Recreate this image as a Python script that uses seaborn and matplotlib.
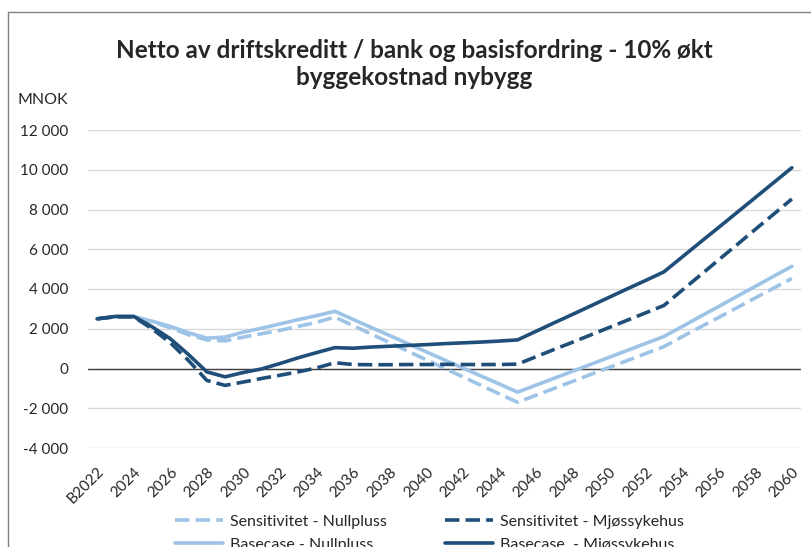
import seaborn as sns
import matplotlib.pyplot as plt
from matplotlib.lines import Line2D
from matplotlib.ticker import FuncFormatter
import numpy as np
import pandas as pd

aar = ["B2022"] + [str(a) for a in range(2023, 2061)]

# verdier lest av figuren (MNOK)
sens_null = [2500, 2600, 2600, 2350, 2050, 1700, 1440, 1390, 1580, 1750,
             1920, 2120, 2320, 2590, 2160, 1730, 1300, 870, 440, 10,
             -420, -850, -1280, -1700, -1350, -1000, -650, -300, 50, 400,
             750, 1100, 1600, 2090, 2570, 3060, 3550, 4040, 4530]
sens_mjos = [2500, 2600, 2600, 2000, 1300, 400, -600, -850, -680, -500,
             -340, -170, 30, 290, 200, 190, 190, 200, 200, 210,
             200, 200, 200, 220, 590, 960, 1320, 1690, 2060, 2430,
             2800, 3170, 3940, 4700, 5470, 6230, 7000, 7760, 8530]
base_null = [2500, 2620, 2620, 2380, 2120, 1800, 1530, 1580, 1830, 2030,
             2240, 2460, 2660, 2880, 2470, 2060, 1660, 1250, 840, 430,
             30, -380, -780, -1190, -840, -490, -140, 210, 560, 910,
             1260, 1610, 2110, 2620, 3120, 3630, 4130, 4640, 5140]
base_mjos = [2500, 2620, 2620, 2100, 1500, 700, -170, -420, -200, -20,
             250, 540, 800, 1050, 1020, 1080, 1120, 1160, 1200, 1250,
             1290, 1330, 1380, 1440, 1870, 2300, 2720, 3150, 3580, 4010,
             4430, 4860, 5610, 6360, 7100, 7850, 8600, 9350, 10100]

serier = [("Sensitivitet - Nullpluss", sens_null, '#9DC3E6', True),
          ("Basecase - Nullpluss", base_null, '#9DC3E6', False),
          ("Sensitivitet - Mjøssykehus", sens_mjos, '#1F4E79', True),
          ("Basecase  - Mjøssykehus", base_mjos, '#1F4E79', False)]

sns.set_theme(style='white')
plt.rcParams['font.family'] = ['Lato', 'DejaVu Sans']

f = plt.figure(figsize=(8.12, 5.47), dpi=100)
ax = f.add_axes([88 / 812, 1 - 448 / 547, 713 / 812, 318 / 547])

x = np.arange(len(aar))
for navn, verdier, farge, stiplet in serier:
    df = pd.DataFrame({'x': x, 'y': verdier})
    if stiplet:
        sns.lineplot(data=df, x='x', y='y', ax=ax, color=farge, lw=2.6,
                     linestyle=(0, (4, 1.7)), label=navn, legend=False)
    else:
        sns.lineplot(data=df, x='x', y='y', ax=ax, color=farge, lw=2.6,
                     label=navn, legend=False)

ax.set_xlim(-0.5, len(aar) - 0.5)
ax.set_ylim(-4000, 12000)
ax.set_yticks(np.arange(-4000, 12001, 2000))
ax.yaxis.set_major_formatter(FuncFormatter(lambda v, p: f"{int(v):,}".replace(",", " ")))
ax.grid(axis='y', color='#D9D9D9', lw=1)
ax.axhline(0, color='#404040', lw=1, zorder=1)
for s in ax.spines.values():
    s.set_visible(False)
ax.set_xticks(x[::2])
ax.set_xticklabels(aar[::2], rotation=45, ha='right', rotation_mode='anchor')
ax.tick_params(axis='x', length=0, pad=12, labelsize=11)
ax.tick_params(axis='y', length=0, pad=14.4, labelsize=11)
ax.set_xlabel('')
ax.set_ylabel('')

f.text(414 / 812, 1 - 64 / 547, "Netto av driftskreditt / bank og basisfordring - 10% økt\nbyggekostnad nybygg",
       ha='center', va='center', fontsize=17.5, fontweight='bold', linespacing=1.25)
f.text(18 / 812, 1 - 100 / 547, "MNOK", va='center', fontsize=11.5)

h, l = ax.get_legend_handles_labels()
f.legend(h, l, ncol=2, loc='upper left', bbox_to_anchor=(161 / 812, 1 - 500 / 547),
         frameon=False, fontsize=11.5, handlelength=3.0, columnspacing=3.6,
         labelspacing=0.55, handletextpad=0.45, borderpad=0.4)

f.add_artist(Line2D([8 / 812, 1], [1 - 12 / 547, 1 - 12 / 547], color='#7f7f7f', lw=1))
f.add_artist(Line2D([8 / 812, 8 / 812], [0, 1 - 12 / 547], color='#7f7f7f', lw=1))

f.savefig('out.png', dpi=100)
